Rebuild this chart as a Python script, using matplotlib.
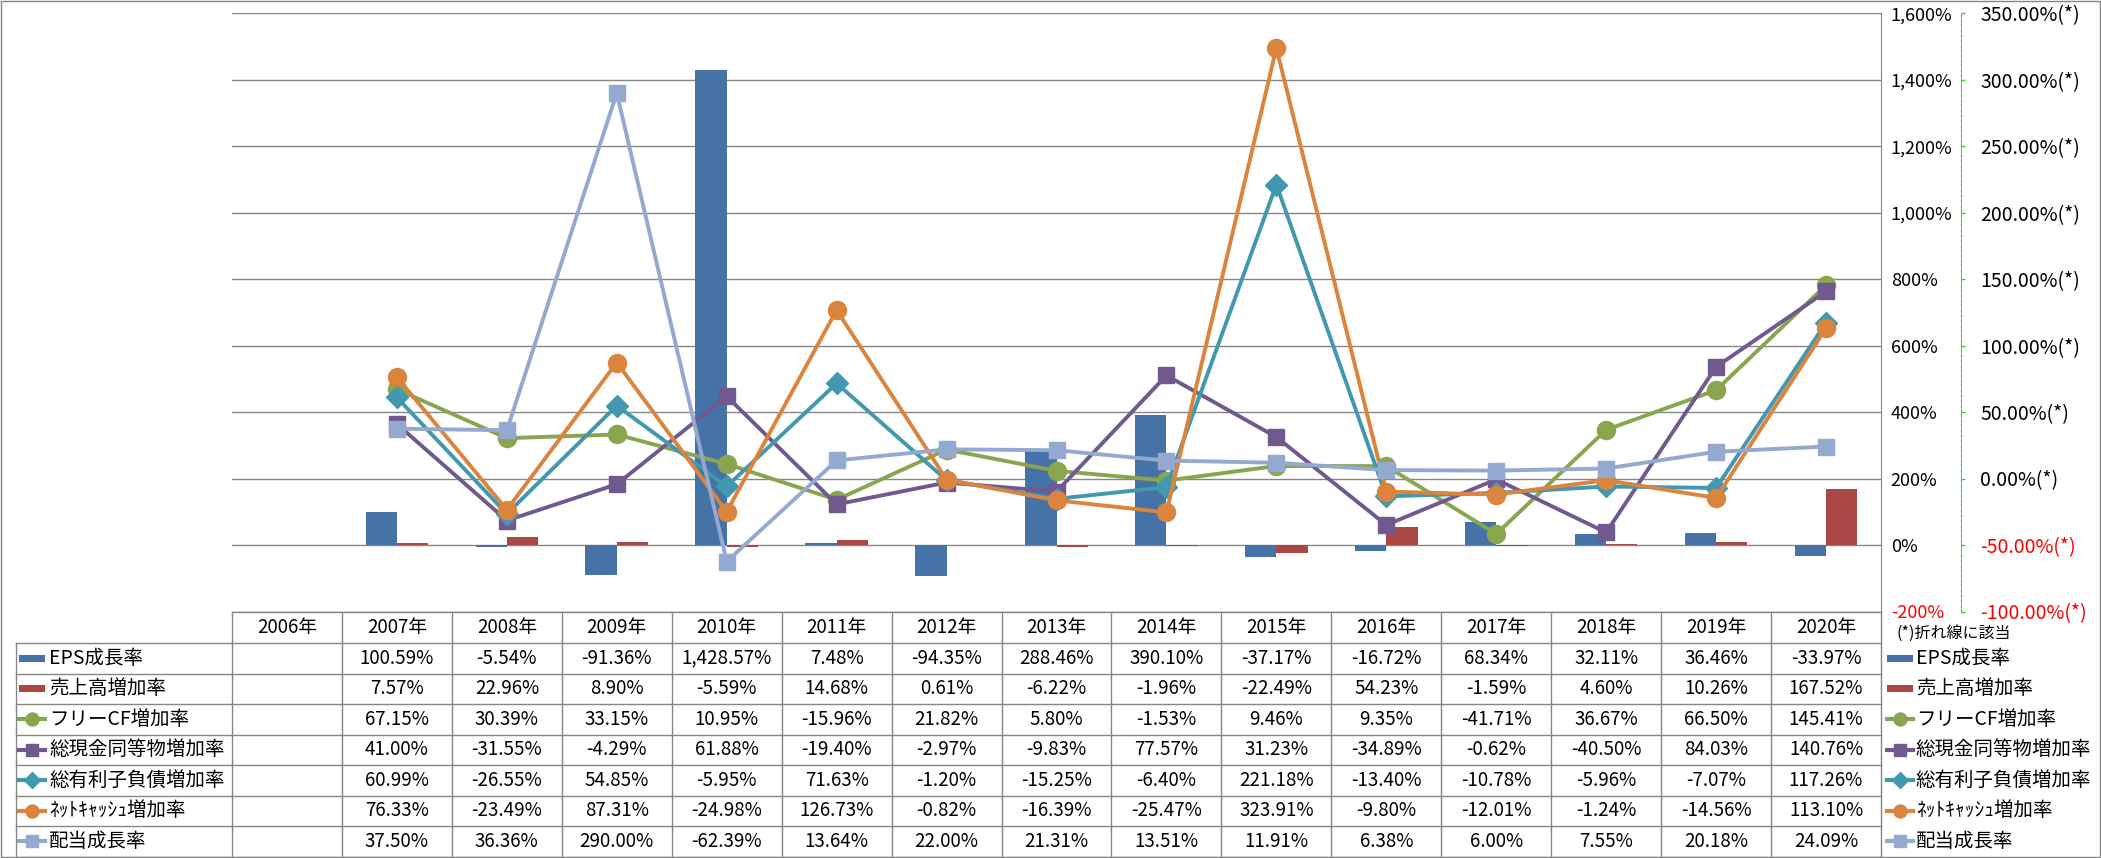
import matplotlib
matplotlib.use('agg')
import matplotlib.pyplot as plt
import matplotlib.patches as patches
import numpy as np

plt.rcParams['font.family'] = ['Noto Sans CJK JP', 'DejaVu Sans']

nan = np.nan
years = ['2006年', '2007年', '2008年', '2009年', '2010年', '2011年', '2012年',
         '2013年', '2014年', '2015年', '2016年', '2017年', '2018年', '2019年',
         '2020年']

# bars (primary axis, %)
eps_growth = [nan, 100.59, -5.54, -91.36, 1428.57, 7.48, -94.35, 288.46,
              390.10, -37.17, -16.72, 68.34, 32.11, 36.46, -33.97]
sales_growth = [nan, 7.57, 22.96, 8.90, -5.59, 14.68, 0.61, -6.22, -1.96,
                -22.49, 54.23, -1.59, 4.60, 10.26, 167.52]

# lines (secondary axis, %)
fcf_growth = [nan, 67.15, 30.39, 33.15, 10.95, -15.96, 21.82, 5.80, -1.53,
              9.46, 9.35, -41.71, 36.67, 66.50, 145.41]
cash_growth = [nan, 41.00, -31.55, -4.29, 61.88, -19.40, -2.97, -9.83, 77.57,
               31.23, -34.89, -0.62, -40.50, 84.03, 140.76]
debt_growth = [nan, 60.99, -26.55, 54.85, -5.95, 71.63, -1.20, -15.25, -6.40,
               221.18, -13.40, -10.78, -5.96, -7.07, 117.26]
netcash_growth = [nan, 76.33, -23.49, 87.31, -24.98, 126.73, -0.82, -16.39,
                  -25.47, 323.91, -9.80, -12.01, -1.24, -14.56, 113.10]
dividend_growth = [nan, 37.50, 36.36, 290.00, -62.39, 13.64, 22.00, 21.31,
                   13.51, 11.91, 6.38, 6.00, 7.55, 20.18, 24.09]

bar_series = [
    ('EPS成長率', eps_growth, '#4572A7'),
    ('売上高増加率', sales_growth, '#AA4643'),
]
line_series = [
    ('フリーCF増加率', fcf_growth, '#89A54E', 'o', 13),
    ('総現金同等物増加率', cash_growth, '#71588F', 's', 12),
    ('総有利子負債増加率', debt_growth, '#4198AF', 'D', 11),
    ('ﾈｯﾄｷｬｯｼｭ増加率', netcash_growth, '#DB843D', 'o', 13),
    ('配当成長率', dividend_growth, '#93A9CF', 's', 12),
]

primary_ticks = list(range(-200, 1601, 200))
secondary_ticks = list(range(-100, 351, 50))

W, H = 2101, 858
grey = '#868686'

# pixel layout
plot_l, plot_r = 232, 1881
plot_t, plot_b = 13.3, 611.5
sec_x = 1961
head_b = 643
row_h = (856.5 - head_b) / 7
lab_l = 16
col_w = (plot_r - plot_l) / len(years)

fig = plt.figure(figsize=(W / 100, H / 100), dpi=100)


def fx(px):
    return px / W


def fy(py):
    return 1 - py / H


ax = fig.add_axes([fx(plot_l), fy(plot_b), fx(plot_r) - fx(plot_l),
                   fy(plot_t) - fy(plot_b)])
x = np.arange(len(years))
bw = 0.285
ax.bar(x - bw / 2, bar_series[0][1], bw, color=bar_series[0][2], zorder=2)
ax.bar(x + bw / 2, bar_series[1][1], bw, color=bar_series[1][2], zorder=2)
ax.set_xlim(-0.5, len(years) - 0.5)
ax.set_ylim(-200, 1600)
ax.set_xticks([])
ax.set_yticks(primary_ticks, ['{:,}%'.format(v) for v in primary_ticks])
ax.yaxis.grid(True, color=grey, lw=1)
ax.set_axisbelow(True)

ax2 = ax.twinx()
# twinx moves the primary ticks back to the left, so set right side here
ax.yaxis.tick_right()
ax.tick_params(axis='y', length=0, pad=7, labelsize=13)
for s in ('top', 'left', 'bottom'):
    ax.spines[s].set_visible(False)
ax.spines['right'].set_color(grey)
for t, v in zip(ax.yaxis.get_major_ticks(), primary_ticks):
    t.label2.set_color('red' if v < 0 else 'black')

for name, vals, c, m, ms in line_series:
    ax2.plot(x, vals, color=c, lw=2.8, marker=m, ms=ms, mfc=c, mec=c,
             solid_joinstyle='round')
ax2.set_ylim(-100, 350)
ax2.set_yticks(secondary_ticks,
               ['{:.2f}%(*)'.format(v) for v in secondary_ticks])
for s in ('top', 'left', 'bottom'):
    ax2.spines[s].set_visible(False)
ax2.spines['right'].set_position(('axes', (sec_x - plot_l) / (plot_r - plot_l)))
ax2.spines['right'].set_color('#22DD22')
ax2.spines['right'].set_linestyle((0, (3, 1.5)))
ax2.tick_params(axis='y', colors='#22DD22', length=3, width=1, pad=11,
                labelsize=14)
for t, v in zip(ax2.yaxis.get_major_ticks(), secondary_ticks):
    t.label2.set_color('red' if v < 0 else 'black')

# data table + legend drawn in pixel space
tab = fig.add_axes([0, 0, 1, 1])
tab.set_xlim(0, W)
tab.set_ylim(H, 0)
tab.axis('off')

tab.add_patch(patches.Rectangle((0.5, 0.5), W - 1.5, H - 1.5, fill=False,
                                ec=grey, lw=1))
n_rows = len(bar_series) + len(line_series)
tab_b = head_b + n_rows * row_h
tab.plot([plot_l, plot_r], [plot_b, plot_b], color=grey, lw=1)
for i in range(len(years) + 1):
    xx = plot_l + i * col_w
    tab.plot([xx, xx], [plot_b, tab_b], color=grey, lw=1)
tab.plot([lab_l, lab_l], [head_b, tab_b], color=grey, lw=1)
for r in range(n_rows + 1):
    yy = head_b + r * row_h
    tab.plot([lab_l, plot_r], [yy, yy], color=grey, lw=1)

for i, yr in enumerate(years):
    tab.text(plot_l + (i + 0.5) * col_w, (plot_b + head_b) / 2, yr,
             ha='center', va='center', fontsize=13.5)

rows = [(n, v, c, None, None) for n, v, c in bar_series] + line_series


def draw_key(x0, yc, c, m, ms):
    if m is None:
        tab.add_patch(patches.Rectangle((x0, yc - 3.5), 26, 7, color=c, lw=0))
    else:
        tab.plot([x0, x0 + 26], [yc, yc], color=c, lw=3)
        tab.plot([x0 + 13], [yc], marker=m, ms=ms * 0.72, color=c)


for r, (name, vals, c, m, ms) in enumerate(rows):
    yc = head_b + (r + 0.5) * row_h
    draw_key(lab_l + 3, yc, c, m, ms)
    tab.text(lab_l + 33, yc, name, ha='left', va='center', fontsize=14)
    draw_key(1887, yc, c, m, ms)
    tab.text(1916, yc, name, ha='left', va='center', fontsize=14)
    for i, v in enumerate(vals):
        if np.isnan(v):
            continue
        tab.text(plot_l + (i + 0.5) * col_w, yc, '{:,.2f}%'.format(v),
                 ha='center', va='center', fontsize=13.5)

tab.text(1896, 633, '(*)折れ線に該当', ha='left', va='center', fontsize=11.5)

fig.savefig('out.png', dpi=100)
